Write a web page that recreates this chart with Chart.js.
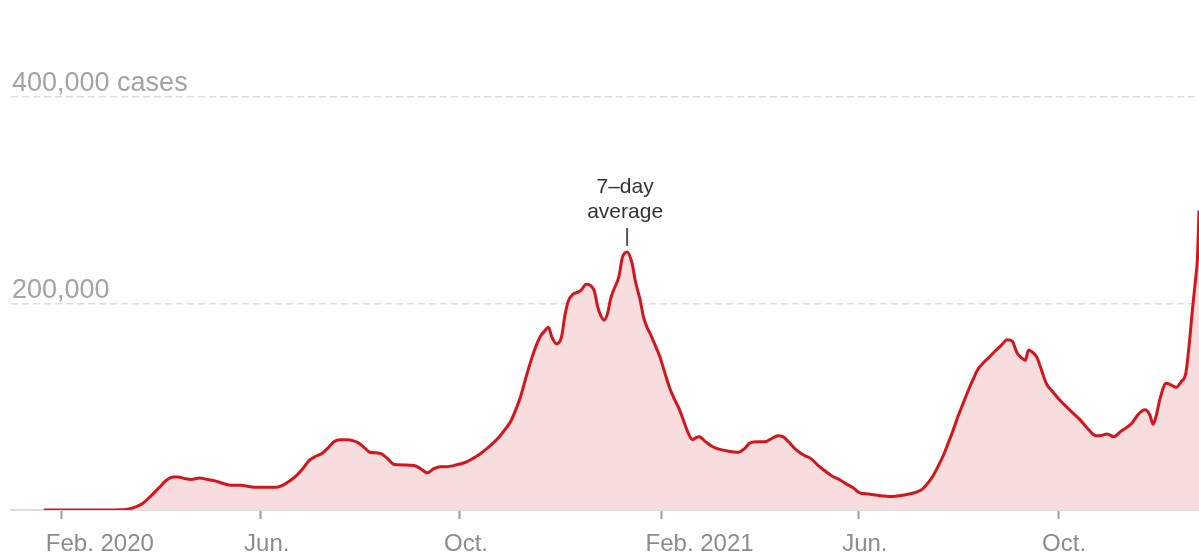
<!DOCTYPE html>
<html>
<head>
<meta charset="utf-8">
<script src="https://cdn.jsdelivr.net/npm/chart.js@4/dist/chart.umd.min.js"></script>
<style>
  html, body { margin: 0; padding: 0; background: #fff; }
  #wrap { width: 1199px; height: 554px; }
</style>
</head>
<body>
<div id="wrap"><canvas id="c" width="1199" height="554"></canvas></div>
<script>
// Day offsets counted from Jan. 1, 2020
const days = [20, 40, 60, 70, 72, 76, 80, 85, 90, 95, 99, 102, 106, 110, 115, 120, 125, 130, 134, 140,
  146, 150, 156, 162, 166, 170, 174, 178, 182, 186, 190, 194, 197, 201, 205, 209, 212, 216, 219, 225,
  229, 234, 240, 246, 250, 254, 258, 262, 266, 270, 274, 278, 282, 286, 290, 294, 298, 302, 305, 308,
  311, 314, 317, 320, 323, 326, 328, 330, 333, 336, 338, 340, 343, 346, 348, 351, 354, 356, 358, 360,
  362, 364, 366, 368, 371, 373, 376, 379, 381, 384, 386, 388, 390, 393, 396, 399, 402, 405, 408, 411,
  414, 416, 418, 420, 424, 428, 432, 438, 444, 448, 451, 456, 460, 464, 468, 471, 474, 479, 484, 488,
  492, 496, 501, 506, 510, 514, 518, 523, 528, 533, 538, 543, 548, 552, 556, 560, 563, 566, 569, 572,
  575, 578, 581, 584, 587, 590, 594, 597, 600, 604, 608, 611, 614, 617, 619, 621, 624, 626, 629, 632,
  636, 640, 646, 652, 657, 662, 666, 669, 673, 677, 681, 684, 688, 692, 695, 697, 699, 701, 705, 708,
  711, 714, 717, 719, 721, 723, 724, 725];
// 7-day average of new cases
const cases = [0, 0, 100, 500, 1000, 3000, 6000, 13000, 21000, 29000, 32000, 32000, 30500, 29500, 31000, 29500, 28000, 25500, 24000, 24000,
  22500, 22000, 22000, 22000, 24000, 28000, 33000, 40000, 48000, 52000, 55000, 61000, 66000, 68000, 68000, 67000, 65000, 60000, 56000, 55000,
  51000, 44000, 43500, 43000, 40000, 36000, 40000, 42000, 42000, 43000, 44500, 46500, 50000, 54000, 59000, 64600, 71000, 79000, 86000, 97000,
  110000, 127000, 143000, 157000, 168000, 174000, 177000, 168000, 161000, 168000, 188000, 202000, 209000, 211000, 213000, 218600, 217000, 212000, 197000, 188000,
  184000, 190000, 205000, 214000, 226000, 244000, 250000, 239000, 222000, 203000, 187000, 177500, 171000, 160000, 148500, 133000, 118000, 107000, 97000, 84000,
  72000, 68000, 70000, 71000, 66000, 61500, 59000, 57000, 56000, 60000, 65000, 66000, 66000, 69000, 72000, 71000, 67000, 58500, 53000, 50000,
  44000, 38700, 33000, 29000, 25000, 21500, 16500, 15500, 14500, 13500, 13000, 14000, 15500, 17000, 20000, 27000, 34000, 43000, 53000, 65000,
  77500, 91000, 103000, 115000, 126000, 136000, 143600, 148000, 153000, 159000, 165000, 163500, 152000, 147000, 145000, 155000, 152000, 148000, 135000, 122000,
  114000, 106500, 97000, 88000, 79000, 72000, 72500, 73500, 71000, 75800, 80000, 84000, 92700, 97000, 92000, 83000, 92000, 106500, 122700, 121000,
  118800, 124000, 133000, 160000, 194000, 225000, 242000, 290000];

const tickDays = [31, 152, 274, 397, 517, 639];
const tickLabels = ['Feb. 2020', 'Jun.', 'Oct.', 'Feb. 2021', 'Jun.', 'Oct.'];
const yTickValues = [200000, 400000];
const yTickLabels = ['200,000', '400,000 cases'];
const noteLines = ['7\u2013day', 'average'];
const noteDay = 376;

const points = days.map((d, i) => ({ x: d, y: cases[i] }));

const notePlugin = {
  id: 'note',
  afterDatasetsDraw(chart) {
    const { ctx, scales } = chart;
    const i = days.indexOf(noteDay);
    const px = scales.x.getPixelForValue(days[i]);
    const py = scales.y.getPixelForValue(cases[i]);
    ctx.save();
    ctx.strokeStyle = '#555';
    ctx.lineWidth = 2;
    ctx.beginPath();
    ctx.moveTo(px, py - 6);
    ctx.lineTo(px, py - 24);
    ctx.stroke();
    ctx.fillStyle = '#333';
    ctx.font = '21px "Liberation Sans", Arial, sans-serif';
    ctx.textAlign = 'center';
    ctx.textBaseline = 'middle';
    ctx.fillText(noteLines[0], px - 2, py - 65);
    ctx.fillText(noteLines[1], px - 2, py - 40);
    ctx.restore();
  }
};

new Chart(document.getElementById('c'), {
  type: 'line',
  data: {
    datasets: [{
      data: points,
      borderColor: '#d2161c',
      backgroundColor: '#f7dddd',
      borderWidth: 3,
      fill: 'origin',
      pointRadius: 0,
      tension: 0.3,
      cubicInterpolationMode: 'monotone'
    }]
  },
  options: {
    responsive: false,
    animation: false,
    layout: { padding: { top: 97, left: 0, right: 0, bottom: 0 } },
    plugins: { legend: { display: false }, tooltip: { enabled: false } },
    scales: {
      x: {
        type: 'linear',
        min: 0,
        max: 725,
        afterBuildTicks(scale) { scale.ticks = tickDays.map(v => ({ value: v })); },
        afterFit(scale) { scale.height = 44; },
        grid: { drawOnChartArea: false, drawTicks: true, tickLength: 9, tickColor: '#9a9a9a', tickWidth: 2 },
        border: { display: true, color: '#dcdcdc', width: 2 },
        ticks: {
          autoSkip: false,
          maxRotation: 0,
          align: 'start',
          labelOffset: -16,
          padding: 11,
          color: '#8c8c8c',
          font: { family: '"Liberation Sans", Arial, sans-serif', size: 24 },
          callback(v) { const k = tickDays.indexOf(v); return k >= 0 ? tickLabels[k] : ''; }
        }
      },
      y: {
        min: 0,
        max: 400000,
        afterBuildTicks(scale) { scale.ticks = [0].concat(yTickValues).map(v => ({ value: v })); },
        afterFit(scale) { scale.width = 11; },
        grid: {
          drawTicks: false,
          lineWidth: 1.5,
          color(ctx) { return ctx.tick && ctx.tick.value === 0 ? 'rgba(0,0,0,0)' : '#dedede'; }
        },
        border: { display: false, dash: [7, 4] },
        ticks: {
          mirror: true,
          padding: 1,
          labelOffset: -13,
          color: '#a3a3a3',
          font: { family: '"Liberation Sans", Arial, sans-serif', size: 27 },
          callback(v) { const k = yTickValues.indexOf(v); return k >= 0 ? yTickLabels[k] : ''; }
        }
      }
    }
  },
  plugins: [notePlugin]
});
</script>
</body>
</html>
